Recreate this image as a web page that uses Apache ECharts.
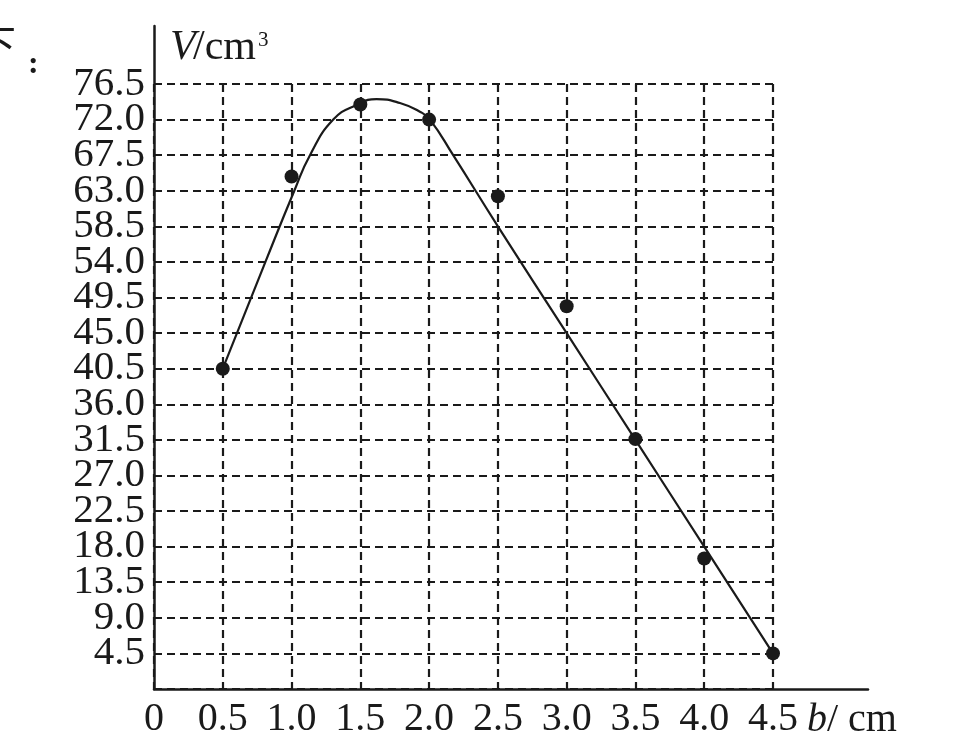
<!DOCTYPE html>
<html>
<head>
<meta charset="UTF-8">
<title>V-b</title>
<script src="https://cdn.jsdelivr.net/npm/echarts@6/dist/echarts.min.js"></script>
<style>
  html, body { margin: 0; padding: 0; background: #fff; }
  #chart { width: 956px; height: 755px; }
</style>
</head>
<body>
<div id="chart"></div>
<script>
// 测量点 (b, V)
var bValues = [0.5, 1.0, 1.5, 2.0, 2.5, 3.0, 3.5, 4.0, 4.5];
var vMeasured = [40.5, 64.8, 73.9, 72.0, 62.3, 48.4, 31.6, 16.5, 4.5];

// 拟合曲线
var curveB = [0.5, 0.81, 1.02, 1.134, 1.303, 1.473, 1.618, 1.788, 1.933, 2.006, 2.175, 2.5, 3.0, 3.5, 4.0, 4.5];
var curveV = [40.5, 54, 63, 67.5, 72, 73.85, 74.6, 74.1, 73.0, 72.0, 67.5, 58.5, 45, 31.5, 18, 4.5];

// 刻度
var xMax = 4.5, xStep = 0.5;
var yMax = 76.5, yStep = 4.5;

var ink = '#1a1a1a';
var serif = 'Liberation Serif';

var myChart = echarts.init(document.getElementById('chart'));

function yLabelStyle(fmt, showMax) {
    return {
        fontFamily: serif, fontSize: 41, color: ink, margin: 9,
        showMaxLabel: showMax, showMinLabel: false,
        formatter: fmt
    };
}

var option = {
    backgroundColor: '#fff',
    animation: false,
    grid: [
        { left: 154, right: 183, top: 84, bottom: 66 },   // 网格区
        { left: 154, right: 88, top: 26, bottom: 66 }     // 坐标轴线
    ],
    xAxis: [{
        type: 'value', gridIndex: 0, min: 0, max: xMax, interval: xStep,
        axisLine: { show: false },
        axisTick: { show: false },
        axisLabel: {
            fontFamily: serif, fontSize: 40, color: ink, margin: 10, showMaxLabel: true,
            formatter: function (v) { return v === 0 ? '0' : v.toFixed(1); }
        },
        splitLine: { show: true, lineStyle: { color: ink, width: 2.2, type: [8, 5] } }
    }, {
        type: 'value', gridIndex: 1, min: 0, max: 1,
        axisLine: { show: true, lineStyle: { color: ink, width: 2.5 } },
        axisTick: { show: false }, axisLabel: { show: false }, splitLine: { show: false }
    }],
    yAxis: [{
        type: 'value', gridIndex: 0, min: 0, max: yMax, interval: yStep, position: 'left',
        axisLine: { show: false },
        axisTick: { show: false },
        axisLabel: yLabelStyle(function (v) { return v.toFixed(1); }, false),
        splitLine: { show: true, lineStyle: { color: ink, width: 2.2, type: [8, 5] } }
    }, {
        type: 'value', gridIndex: 1, min: 0, max: 1,
        axisLine: { show: true, lineStyle: { color: ink, width: 2.5 } },
        axisTick: { show: false }, axisLabel: { show: false }, splitLine: { show: false }
    }, {
        // 顶端 76.5 标签
        type: 'value', gridIndex: 0, min: 0, max: yMax, interval: yStep, position: 'left', offset: 0,
        axisLine: { show: false }, axisTick: { show: false }, splitLine: { show: false },
        axisLabel: yLabelStyle(function (v) { return v === yMax ? v.toFixed(1) : ''; }, true)
    }],
    graphic: [
        { type: 'text', left: 170, top: 27, style: { text: 'V', font: 'italic 42px "Liberation Serif"', fill: ink } },
        { type: 'text', left: 193, top: 27, style: { text: '/cm', font: '42px "Liberation Serif"', fill: ink } },
        { type: 'text', left: 258, top: 30, style: { text: '3', font: '21px "Liberation Serif"', fill: ink } },
        { type: 'text', left: 807, top: 700, style: { text: 'b', font: 'italic 40px "Liberation Serif"', fill: ink } },
        { type: 'text', left: 827, top: 700, style: { text: '/ cm', font: '40px "Liberation Serif"', fill: ink } },
        { type: 'text', left: -24, top: 24, style: { text: '下', font: '40px "Noto Sans CJK SC"', fill: ink } },
        { type: 'text', left: 28, top: 49, style: { text: ':', font: 'bold 32px "Liberation Serif"', fill: ink } }
    ],
    series: [{
        name: '曲线',
        type: 'line',
        xAxisIndex: 0, yAxisIndex: 0,
        smooth: 0.5,
        showSymbol: false,
        lineStyle: { color: ink, width: 2.2 },
        data: curveB.map(function (b, i) { return [b, curveV[i]]; }),
        z: 3
    }, {
        name: '测量值',
        type: 'scatter',
        xAxisIndex: 0, yAxisIndex: 0,
        symbolSize: 14,
        itemStyle: { color: ink, opacity: 1 },
        data: bValues.map(function (b, i) { return [b, vMeasured[i]]; }),
        z: 4
    }]
};

myChart.setOption(option);
</script>
</body>
</html>
